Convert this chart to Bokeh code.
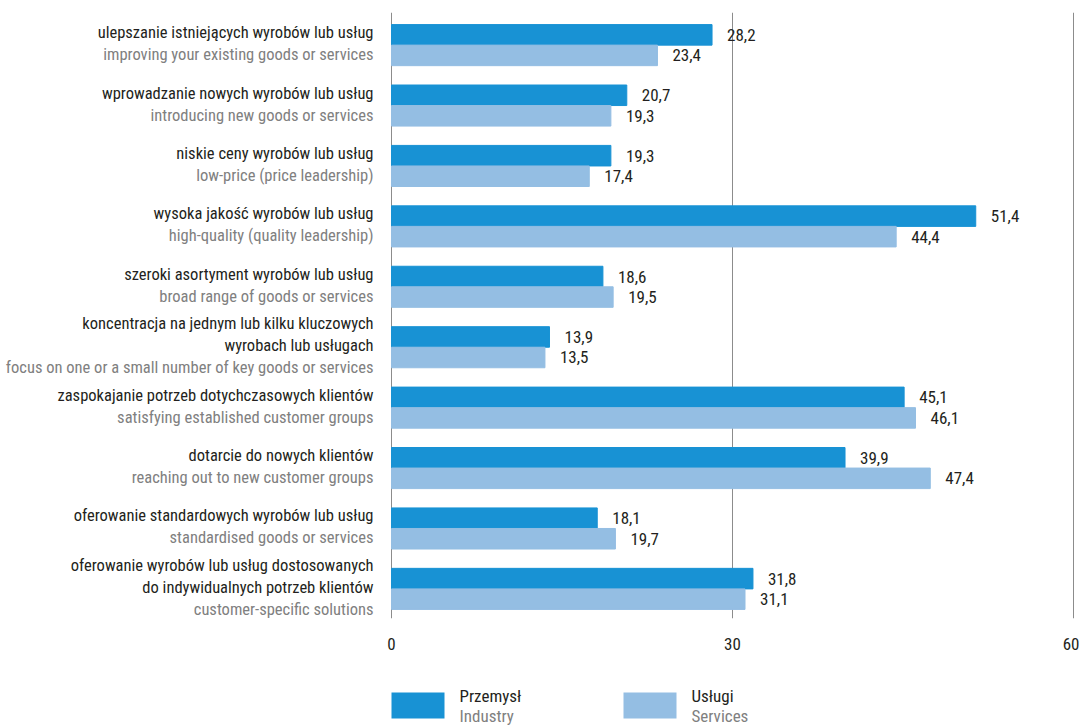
from bokeh.plotting import figure
from bokeh.layouts import column
from bokeh.models import ColumnDataSource, FixedTicker, Range1d
from bokeh.core.properties import value
from bokeh.embed import file_html
from bokeh.resources import INLINE

# ---------------- data ----------------
labels_pl = [
    "ulepszanie istniejących wyrobów lub usług",
    "wprowadzanie nowych wyrobów lub usług",
    "niskie ceny wyrobów lub usług",
    "wysoka jakość wyrobów lub usług",
    "szeroki asortyment wyrobów lub usług",
    "koncentracja na jednym lub kilku kluczowych\nwyrobach lub usługach",
    "zaspokajanie potrzeb dotychczasowych klientów",
    "dotarcie do nowych klientów",
    "oferowanie standardowych wyrobów lub usług",
    "oferowanie wyrobów lub usług dostosowanych\ndo indywidualnych potrzeb klientów",
]
labels_en = [
    "improving your existing goods or services",
    "introducing new goods or services",
    "low-price (price leadership)",
    "high-quality (quality leadership)",
    "broad range of goods or services",
    "focus on one or a small number of key goods or services",
    "satisfying established customer groups",
    "reaching out to new customer groups",
    "standardised goods or services",
    "customer-specific solutions",
]
industry = [28.2, 20.7, 19.3, 51.4, 18.6, 13.9, 45.1, 39.9, 18.1, 31.8]
services = [23.4, 19.3, 17.4, 44.4, 19.5, 13.5, 46.1, 47.4, 19.7, 31.1]
x_ticks = [0, 30, 60]
series_pl = ["Przemysł", "Usługi"]
series_en = ["Industry", "Services"]

# ---------------- styling ----------------
FONT = "'Roboto Condensed', 'DejaVu Sans Condensed', Roboto"
C_IND = "#1892d4"
C_SRV = "#94bee3"
series_colors = [C_IND, C_SRV]
C_DARK = "#231f20"
C_GREY = "#808080"
FS = "17px"
FS_LAB = "16.5px"

W = 1079
H1 = 670            # main chart
H2 = 56             # legend strip
LEFT_PX = 391       # where x = 0 sits
DATA_W_PX = 682     # pixels for 0..60
TOP_PX, BOT_PX = 12, 618

px_x = DATA_W_PX / (x_ticks[-1] - x_ticks[0])
x_range = Range1d(-LEFT_PX / px_x, (W - LEFT_PX) / px_x)
Y_TOP, Y_BOT = 0.46, 10.49
px_y = (BOT_PX - TOP_PX) / (Y_BOT - Y_TOP)

p = figure(width=W, height=H1, output_backend="svg", toolbar_location=None,
           x_range=x_range, y_range=Range1d(Y_BOT, Y_TOP),
           y_axis_location=None,
           min_border_left=0, min_border_right=0, min_border_top=TOP_PX,
           min_border_bottom=H1 - BOT_PX)
p.outline_line_color = None
p.background_fill_color = None
p.border_fill_color = "white"

n = len(industry)
pos = list(range(1, n + 1))
off = 0.17
hgt = 0.34

src_i = ColumnDataSource(dict(y=[v - off for v in pos], x=industry,
                              t=[f"{v:.1f}".replace(".", ",") for v in industry]))
src_s = ColumnDataSource(dict(y=[v + off for v in pos], x=services,
                              t=[f"{v:.1f}".replace(".", ",") for v in services]))

p.hbar(y="y", right="x", left=0, height=hgt, source=src_i, color=C_IND)
p.hbar(y="y", right="x", left=0, height=hgt, source=src_s, color=C_SRV)

for s in (src_i, src_s):
    p.text(x="x", y="y", text="t", source=s, x_offset=15, text_baseline="middle",
           text_align="left", text_font=value(FONT), text_font_size=FS,
           text_color=C_DARK)

# grid & axis
p.ygrid.grid_line_color = None
p.xgrid.ticker = FixedTicker(ticks=x_ticks)
p.xgrid.grid_line_color = "#8c8c8c"
p.xgrid.grid_line_width = 1
xa = p.xaxis[0]
xa.ticker = FixedTicker(ticks=x_ticks)
xa.axis_line_color = None
xa.major_tick_line_color = None
xa.minor_tick_line_color = None
xa.major_tick_in = 0
xa.major_tick_out = 0
xa.major_label_standoff = 19
xa.major_label_text_font = FONT
xa.major_label_text_font_size = FS
xa.major_label_text_color = C_DARK

# category labels (right-aligned 18px left of x=0)
line_step = 22 / px_y
lab_x = -18 / px_x
lx, ly, lt, lc = [], [], [], []
for i, (pl, en) in enumerate(zip(labels_pl, labels_en)):
    lines = pl.split("\n") + [en]
    cols = [C_DARK] * (len(lines) - 1) + [C_GREY]
    m = len(lines)
    for k, (ln, c) in enumerate(zip(lines, cols)):
        ly.append(pos[i] + (k - (m - 1) / 2) * line_step - 1.5 / px_y)
        lt.append(ln)
        lc.append(c)
        lx.append(lab_x)
lab_src = ColumnDataSource(dict(x=lx, y=ly, t=lt, c=lc))
p.text(x="x", y="y", text="t", source=lab_src, text_color="c",
       text_align="right", text_baseline="middle",
       text_font=value(FONT), text_font_size=FS_LAB)

# ---------------- legend strip ----------------
q = figure(width=W, height=H2, output_backend="svg", toolbar_location=None,
           x_range=x_range, y_range=Range1d(H2, 0),
           x_axis_location=None, y_axis_location=None,
           min_border_left=0, min_border_right=0, min_border_top=0,
           min_border_bottom=0)
q.outline_line_color = None
q.background_fill_color = None
q.border_fill_color = "white"
q.xgrid.grid_line_color = None
q.ygrid.grid_line_color = None

item_step = 232 / px_x
sw_w = 53 / px_x
leg_x = [j * item_step for j in range(len(series_pl))]
q.quad(left=leg_x, right=[v + sw_w for v in leg_x], top=[22] * 2, bottom=[48] * 2,
       fill_color=series_colors, line_color=None)
tx = [v + sw_w + 15 / px_x for v in leg_x]
q.text(x=tx, y=[25] * 2, text=series_pl, text_color=C_DARK,
       text_baseline="middle", text_align="left",
       text_font=value(FONT), text_font_size=FS)
q.text(x=tx, y=[45] * 2, text=series_en, text_color=C_GREY,
       text_baseline="middle", text_align="left",
       text_font=value(FONT), text_font_size=FS)

layout = column(p, q, spacing=0)
open("out.html", "w").write(file_html(layout, INLINE))
